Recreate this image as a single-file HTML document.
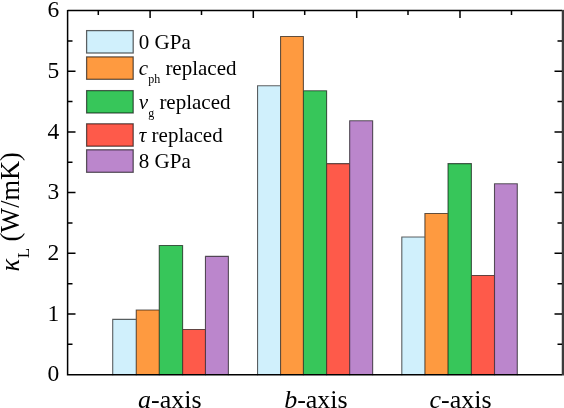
<!DOCTYPE html>
<html><head><meta charset="utf-8"><style>
html,body{margin:0;padding:0;background:#fff;}
svg{display:block;will-change:transform;}
text{font-family:"Liberation Serif",serif;fill:#000;}
.t{font-size:23.5px;}
.c{font-size:26px;}
.l{font-size:21px;}
</style></head><body>
<svg width="564" height="408" viewBox="0 0 564 408">
<rect width="564" height="408" fill="#fff"/>
<rect x="112.70" y="319.40" width="23.55" height="55.25" fill="#D0F0FC"/>
<rect x="136.25" y="310.00" width="23.00" height="64.65" fill="#FE9A40"/>
<rect x="159.25" y="245.50" width="23.35" height="129.15" fill="#37C65A"/>
<rect x="182.60" y="329.55" width="22.85" height="45.10" fill="#FE5A4A"/>
<rect x="205.45" y="256.40" width="22.95" height="118.25" fill="#BB86CC"/>
<path d="M112.70 319.40 H136.25 M136.25 310.00 H159.25 M159.25 245.50 H182.60 M182.60 329.55 H205.45 M205.45 256.40 H228.40 M112.70 319.40 V374.65 M136.25 310.00 V374.65 M159.25 245.50 V374.65 M182.60 245.50 V374.65 M205.45 256.40 V374.65 M228.40 256.40 V374.65" stroke="rgba(0,0,0,0.62)" stroke-width="1.1" stroke-linecap="square" fill="none"/>
<rect x="257.55" y="85.80" width="23.00" height="288.85" fill="#D0F0FC"/>
<rect x="280.55" y="36.50" width="22.85" height="338.15" fill="#FE9A40"/>
<rect x="303.40" y="90.80" width="23.20" height="283.85" fill="#37C65A"/>
<rect x="326.60" y="163.65" width="23.05" height="211.00" fill="#FE5A4A"/>
<rect x="349.65" y="120.75" width="23.00" height="253.90" fill="#BB86CC"/>
<path d="M257.55 85.80 H280.55 M280.55 36.50 H303.40 M303.40 90.80 H326.60 M326.60 163.65 H349.65 M349.65 120.75 H372.65 M257.55 85.80 V374.65 M280.55 36.50 V374.65 M303.40 36.50 V374.65 M326.60 90.80 V374.65 M349.65 120.75 V374.65 M372.65 120.75 V374.65" stroke="rgba(0,0,0,0.62)" stroke-width="1.1" stroke-linecap="square" fill="none"/>
<rect x="401.80" y="237.00" width="23.10" height="137.65" fill="#D0F0FC"/>
<rect x="424.90" y="213.50" width="23.10" height="161.15" fill="#FE9A40"/>
<rect x="448.00" y="163.60" width="23.40" height="211.05" fill="#37C65A"/>
<rect x="471.40" y="275.50" width="23.10" height="99.15" fill="#FE5A4A"/>
<rect x="494.50" y="183.80" width="22.80" height="190.85" fill="#BB86CC"/>
<path d="M401.80 237.00 H424.90 M424.90 213.50 H448.00 M448.00 163.60 H471.40 M471.40 275.50 H494.50 M494.50 183.80 H517.30 M401.80 237.00 V374.65 M424.90 213.50 V374.65 M448.00 163.60 V374.65 M471.40 163.60 V374.65 M494.50 183.80 V374.65 M517.30 183.80 V374.65" stroke="rgba(0,0,0,0.62)" stroke-width="1.1" stroke-linecap="square" fill="none"/>
<path d="M67.6 10.6 H562 M67.6 9.9 V375.5 M66.85 374.65 H562" stroke="#000" stroke-width="1.5" fill="none"/>
<rect x="561.75" y="9.85" width="2.25" height="365.65" fill="#3c3c3c"/>
<path d="M68 344.31 H72.50 M562 344.31 H557.50 M68 313.97 H75.50 M562 313.97 H554.50 M68 283.63 H72.50 M562 283.63 H557.50 M68 253.29 H75.50 M562 253.29 H554.50 M68 222.95 H72.50 M562 222.95 H557.50 M68 192.61 H75.50 M562 192.61 H554.50 M68 162.27 H72.50 M562 162.27 H557.50 M68 131.93 H75.50 M562 131.93 H554.50 M68 101.59 H72.50 M562 101.59 H557.50 M68 71.25 H75.50 M562 71.25 H554.50 M68 40.91 H72.50 M562 40.91 H557.50 M98.30 11 V15 M201.50 11 V15 M304.70 11 V15 M408.00 11 V15 M511.50 11 V15 M150.10 11 V18.1 M253.30 11 V18.1 M356.70 11 V18.1 M460.00 11 V18.1" stroke="#000" stroke-width="1.5" fill="none"/>
<text x="59.2" y="381.25" text-anchor="end" class="t">0</text>
<text x="59.2" y="320.57" text-anchor="end" class="t">1</text>
<text x="59.2" y="259.89" text-anchor="end" class="t">2</text>
<text x="59.2" y="199.21" text-anchor="end" class="t">3</text>
<text x="59.2" y="138.53" text-anchor="end" class="t">4</text>
<text x="59.2" y="77.85" text-anchor="end" class="t">5</text>
<text x="59.2" y="17.17" text-anchor="end" class="t">6</text>
<text x="169.8" y="407.9" text-anchor="middle" class="c"><tspan font-style="italic">a</tspan>-axis</text>
<text x="315.9" y="407.9" text-anchor="middle" class="c"><tspan font-style="italic">b</tspan>-axis</text>
<text x="460.6" y="407.9" text-anchor="middle" class="c"><tspan font-style="italic">c</tspan>-axis</text>
<text transform="translate(19,271.6) rotate(-90)" class="c" style="font-size:26.35px"><tspan font-style="italic">κ</tspan><tspan style="font-size:17px" dy="9.8" dx="0.7">L</tspan><tspan dy="-9.8" dx="-0.2"> (W/mK)</tspan></text>
<rect x="86.6" y="30.60" width="46.6" height="22.40" fill="#D0F0FC" stroke="rgba(0,0,0,0.62)" stroke-width="1.25"/>
<text x="138.8" y="48.60" class="l">0 GPa</text>
<rect x="86.6" y="56.90" width="46.6" height="22.40" fill="#FE9A40" stroke="rgba(0,0,0,0.62)" stroke-width="1.25"/>
<text x="138.8" y="74.90" class="l"><tspan font-style="italic">c</tspan><tspan font-size="12" dy="8.4">ph</tspan><tspan dy="-8.4"> replaced</tspan></text>
<rect x="86.6" y="90.60" width="46.6" height="22.40" fill="#37C65A" stroke="rgba(0,0,0,0.62)" stroke-width="1.25"/>
<text x="138.8" y="108.60" class="l"><tspan font-style="italic">v</tspan><tspan font-size="12" dy="8.4">g</tspan><tspan dy="-8.4"> replaced</tspan></text>
<rect x="86.6" y="123.80" width="46.6" height="22.40" fill="#FE5A4A" stroke="rgba(0,0,0,0.62)" stroke-width="1.25"/>
<text x="138.8" y="141.80" class="l"><tspan font-style="italic">τ</tspan> replaced</text>
<rect x="86.6" y="149.80" width="46.6" height="22.50" fill="#BB86CC" stroke="rgba(0,0,0,0.62)" stroke-width="1.25"/>
<text x="138.8" y="167.85" class="l">8 GPa</text>
</svg>
</body></html>
